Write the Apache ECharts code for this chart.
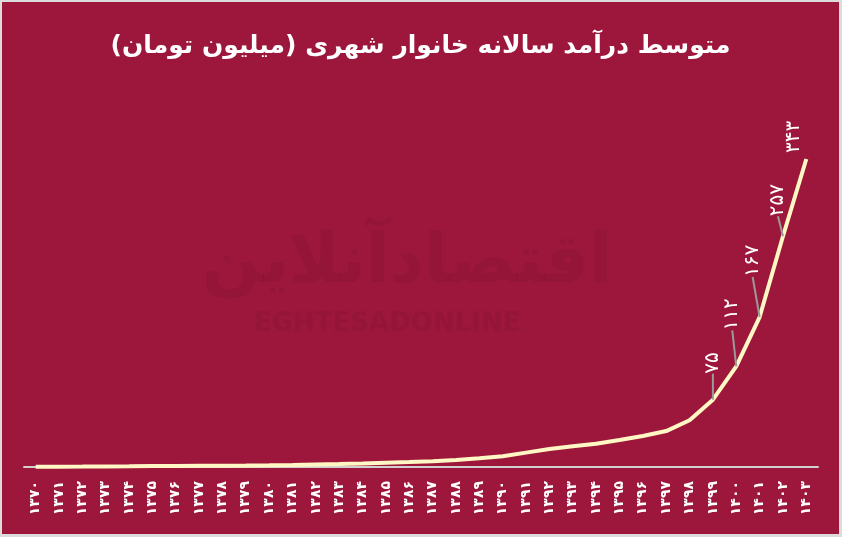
<!DOCTYPE html>
<html><head><meta charset="utf-8">
<script src="https://cdn.jsdelivr.net/npm/echarts@6/dist/echarts.min.js"></script>
<style>
html,body{margin:0;padding:0;background:#dcdcdc;}
#wrap{position:relative;width:842px;height:537px;background:#dcdcdc;overflow:hidden;}
#c{position:absolute;left:2px;top:2px;width:837px;height:532px;}
</style></head>
<body><div id="wrap"><div id="c"></div></div>
<script>
const years = ['۱۳۷۰','۱۳۷۱','۱۳۷۲','۱۳۷۳','۱۳۷۴','۱۳۷۵','۱۳۷۶','۱۳۷۷','۱۳۷۸','۱۳۷۹','۱۳۸۰','۱۳۸۱','۱۳۸۲','۱۳۸۳','۱۳۸۴','۱۳۸۵','۱۳۸۶','۱۳۸۷','۱۳۸۸','۱۳۸۹','۱۳۹۰','۱۳۹۱','۱۳۹۲','۱۳۹۳','۱۳۹۴','۱۳۹۵','۱۳۹۶','۱۳۹۷','۱۳۹۸','۱۳۹۹','۱۴۰۰','۱۴۰۱','۱۴۰۲','۱۴۰۳'];
const income = [0.3,0.4,0.5,0.65,0.8,1.0,1.1,1.3,1.5,1.6,1.9,2.3,2.8,3.3,4.0,4.8,5.5,6.5,7.8,9.7,12,16,20,23,26,30,34.5,40,52,75,112,167,257,343];
const labelled = {29:'۷۵',30:'۱۱۲',31:'۱۶۷',32:'۲۵۷',33:'۳۴۳'};
const titleText = 'متوسط درآمد سالانه خانوار شهری (میلیون تومان)';

// label placement (style only): [horizontal shift, lift above point] in px
const labelShift = {29:[0,21],30:[-4,31],31:[-7,35],32:[-5,15],33:[-13,1]};

const chart = echarts.init(document.getElementById('c'));
const FONT = "'DejaVu Sans', 'Noto Sans', sans-serif";
const seriesData = income.map((v,i)=>{
  if (labelled[i] !== undefined) {
    return {value:v, label:{show:true, formatter:labelled[i]}, labelLine:{show: i !== 33}};
  }
  return {value:v};
});
chart.setOption({
  backgroundColor:'#9c173b',
  animation:false,
  title:{text:titleText,left:'center',top:27,textStyle:{color:'#ffffff',fontSize:25,fontWeight:'bold',fontFamily:FONT}},
  graphic:[
    {type:'text',left:200,top:228,style:{text:'اقتصادآنلاین',fontSize:68,fontWeight:'bold',fill:'rgba(40,0,15,0.07)',fontFamily:FONT}},
    {type:'text',left:252,top:309,style:{text:'EGHTESADONLINE',fontSize:26,fontWeight:'bold',fill:'rgba(40,0,15,0.07)',fontFamily:FONT}}
  ],
  grid:{left:22,right:21,top:157,bottom:67},
  xAxis:{type:'category',data:years,boundaryGap:true,
    axisLine:{lineStyle:{color:'#d0d0d0',width:2}},axisTick:{show:false},
    axisLabel:{color:'#ffffff',rotate:90,interval:0,fontSize:14,fontWeight:'bold',margin:14,fontFamily:FONT}},
  yAxis:{type:'value',min:0,max:343,show:false,splitLine:{show:false}},
  series:[{type:'line',data:seriesData,symbol:'circle',symbolSize:0.01,showSymbol:true,
    itemStyle:{color:'#fff8c4',opacity:1},
    lineStyle:{color:'#fff8c4',width:4},
    label:{show:false,position:'top',rotate:90,align:'left',verticalAlign:'middle',distance:5,color:'#ffffff',fontSize:20,fontWeight:'normal',fontFamily:FONT},
    labelLine:{show:true,lineStyle:{color:'#9a9a9a',width:2}},
    labelLayout:function(p){
      const s = labelShift[p.dataIndex] || [0,0];
      return {dx:s[1], dy:s[0]};
    }
  }]
});
</script></body></html>
